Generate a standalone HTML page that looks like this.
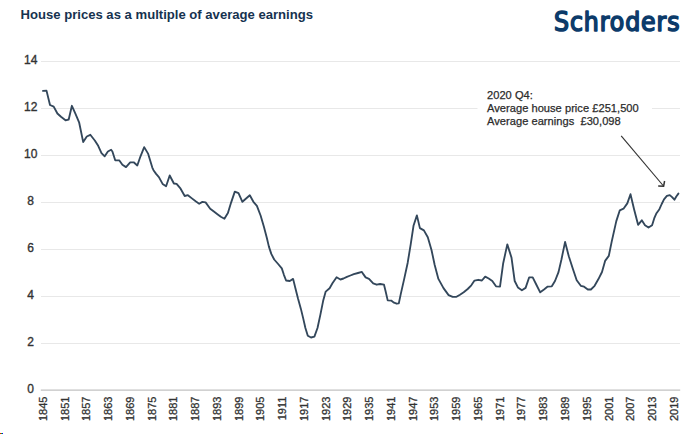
<!DOCTYPE html>
<html><head><meta charset="utf-8"><style>
html,body{margin:0;padding:0;background:#fff;}
body{width:700px;height:434px;overflow:hidden;position:relative;}
svg{position:absolute;left:0;top:0;}
#w{position:absolute;left:0;top:0;width:700px;height:434px;}
.g{stroke:#e8e8e8;stroke-width:1;}
.ax{stroke:#c2c2c2;stroke-width:1.4;}
text{font-family:"Liberation Sans",Arial,sans-serif;}
.yl{font-size:12px;fill:#333;stroke:#333;stroke-width:0.35px;text-anchor:middle;}
.xl{font-size:11px;fill:#333;stroke:#333;stroke-width:0.3px;text-anchor:end;}
.an{font-size:11.1px;letter-spacing:0.03px;fill:#2b2b2b;stroke:#2b2b2b;stroke-width:0.25px;}
.title{font-size:13.1px;font-weight:700;fill:#16324f;}
.logo{font-family:"DejaVu Sans Condensed","DejaVu Sans",sans-serif;font-size:26.3px;font-weight:400;fill:#0c3b6a;stroke:#0c3b6a;stroke-width:1.5px;stroke-linejoin:round;letter-spacing:0.9px;}
.px{position:absolute;width:1px;height:1px;}
</style></head><body>
<div id="w"><svg width="700" height="434" viewBox="0 0 700 434">
<text x="20.5" y="19.45" class="title">House prices as a multiple of average earnings</text>
<text x="554" y="30.6" class="logo">Schroders</text>
<line x1="41" y1="343.5" x2="680" y2="343.5" class="g"/><line x1="41" y1="296.5" x2="680" y2="296.5" class="g"/><line x1="41" y1="249.5" x2="680" y2="249.5" class="g"/><line x1="41" y1="202.5" x2="680" y2="202.5" class="g"/><line x1="41" y1="155.5" x2="680" y2="155.5" class="g"/><line x1="41" y1="108.5" x2="680" y2="108.5" class="g"/><line x1="41" y1="61.5" x2="680" y2="61.5" class="g"/>
<line x1="40.8" y1="390.1" x2="680.2" y2="390.1" class="ax"/>
<text x="30.7" y="392.8" class="yl">0</text><text x="30.7" y="345.8" class="yl">2</text><text x="30.7" y="298.8" class="yl">4</text><text x="30.7" y="251.7" class="yl">6</text><text x="30.7" y="204.7" class="yl">8</text><text x="30.7" y="157.7" class="yl">10</text><text x="30.7" y="110.7" class="yl">12</text><text x="30.7" y="63.7" class="yl">14</text>
<text transform="translate(46.7,396.6) rotate(-90)" class="xl">1845</text><text transform="translate(68.5,396.6) rotate(-90)" class="xl">1851</text><text transform="translate(90.2,396.6) rotate(-90)" class="xl">1857</text><text transform="translate(112.0,396.6) rotate(-90)" class="xl">1863</text><text transform="translate(133.7,396.6) rotate(-90)" class="xl">1869</text><text transform="translate(155.5,396.6) rotate(-90)" class="xl">1875</text><text transform="translate(177.3,396.6) rotate(-90)" class="xl">1881</text><text transform="translate(199.0,396.6) rotate(-90)" class="xl">1887</text><text transform="translate(220.8,396.6) rotate(-90)" class="xl">1893</text><text transform="translate(242.5,396.6) rotate(-90)" class="xl">1899</text><text transform="translate(264.3,396.6) rotate(-90)" class="xl">1905</text><text transform="translate(286.1,396.6) rotate(-90)" class="xl">1911</text><text transform="translate(307.8,396.6) rotate(-90)" class="xl">1917</text><text transform="translate(329.6,396.6) rotate(-90)" class="xl">1923</text><text transform="translate(351.3,396.6) rotate(-90)" class="xl">1929</text><text transform="translate(373.1,396.6) rotate(-90)" class="xl">1935</text><text transform="translate(394.9,396.6) rotate(-90)" class="xl">1941</text><text transform="translate(416.6,396.6) rotate(-90)" class="xl">1947</text><text transform="translate(438.4,396.6) rotate(-90)" class="xl">1953</text><text transform="translate(460.1,396.6) rotate(-90)" class="xl">1959</text><text transform="translate(481.9,396.6) rotate(-90)" class="xl">1965</text><text transform="translate(503.7,396.6) rotate(-90)" class="xl">1971</text><text transform="translate(525.4,396.6) rotate(-90)" class="xl">1977</text><text transform="translate(547.2,396.6) rotate(-90)" class="xl">1983</text><text transform="translate(568.9,396.6) rotate(-90)" class="xl">1989</text><text transform="translate(590.7,396.6) rotate(-90)" class="xl">1995</text><text transform="translate(612.5,396.6) rotate(-90)" class="xl">2001</text><text transform="translate(634.2,396.6) rotate(-90)" class="xl">2007</text><text transform="translate(656.0,396.6) rotate(-90)" class="xl">2013</text><text transform="translate(677.7,396.6) rotate(-90)" class="xl">2019</text>
<rect x="477.5" y="86" width="174.5" height="44" fill="#fff"/>
<text class="an"><tspan x="487" y="99.3">2020 Q4:</tspan><tspan x="487" y="112.1">Average house price £251,500</tspan><tspan x="487" y="125.4">Average earnings&#160; £30,098</tspan></text>
<path d="M43.0,90.9 L46.5,90.6 L50.0,105.0 L53.7,106.6 L57.4,113.5 L61.0,116.8 L65.5,120.3 L68.7,119.5 L71.9,105.8 L75.5,113.9 L79.2,122.7 L83.2,142.1 L86.8,136.5 L90.3,134.8 L94.8,140.5 L98.2,145.8 L101.5,153.1 L104.7,156.3 L107.9,151.5 L111.1,149.8 L112.4,151.5 L115.2,160.3 L119.2,160.3 L122.4,164.8 L126.0,167.1 L130.2,162.3 L133.7,162.3 L137.3,165.5 L140.5,156.3 L144.2,147.1 L148.2,153.9 L152.3,167.6 L153.5,170.2 L156.1,173.9 L158.9,177.1 L162.6,183.9 L166.1,186.3 L169.7,175.5 L173.9,183.5 L176.6,183.9 L180.6,188.7 L184.7,196.0 L187.9,195.2 L191.9,198.4 L196.0,201.6 L199.2,203.7 L202.4,201.9 L205.6,202.4 L210.2,208.7 L213.9,211.5 L217.1,213.9 L220.8,216.8 L224.4,218.7 L227.9,213.1 L231.1,202.6 L234.8,191.6 L238.5,193.2 L242.4,201.8 L246.1,198.5 L249.8,195.3 L253.4,201.8 L256.9,205.8 L260.6,215.5 L263.9,226.8 L266.8,237.7 L268.9,246.6 L271.3,253.9 L274.2,259.5 L277.7,263.5 L281.8,268.4 L283.9,274.8 L286.1,280.5 L289.8,281.0 L293.1,278.9 L295.4,288.2 L298.0,298.5 L300.9,308.9 L303.2,318.4 L305.4,328.0 L307.8,335.7 L311.0,337.5 L314.4,336.6 L317.5,328.0 L320.5,314.1 L323.1,301.1 L325.7,291.6 L329.6,288.2 L332.6,283.0 L336.6,277.3 L340.4,279.5 L343.5,278.5 L346.9,276.9 L350.4,275.5 L353.8,274.1 L358.0,273.0 L361.9,271.9 L363.5,274.4 L365.6,277.4 L369.0,278.8 L373.2,283.4 L376.7,284.7 L380.1,284.0 L384.0,284.7 L385.6,291.2 L387.7,300.4 L391.2,300.6 L394.0,302.7 L396.7,303.7 L398.8,303.4 L400.8,293.9 L404.2,278.9 L407.7,262.7 L410.7,244.3 L413.5,225.8 L416.9,215.4 L419.9,228.1 L423.9,230.4 L427.8,237.3 L431.5,250.0 L434.7,265.0 L438.4,278.9 L443.5,288.1 L448.6,295.1 L452.7,296.9 L456.5,296.8 L460.0,294.7 L463.7,292.3 L467.7,289.0 L471.3,285.3 L474.5,280.6 L478.2,279.8 L481.9,280.5 L485.2,276.6 L488.7,278.5 L492.3,281.0 L496.0,286.3 L500.0,286.6 L503.2,263.2 L507.3,244.4 L511.5,257.6 L514.7,281.0 L517.9,287.4 L521.9,290.2 L525.6,287.9 L529.2,277.3 L532.7,277.3 L536.5,285.0 L540.2,292.3 L544.0,289.5 L547.7,286.6 L551.8,286.3 L555.0,281.0 L558.5,272.1 L561.5,259.2 L565.1,241.9 L568.8,256.3 L573.0,269.2 L576.7,280.2 L580.8,285.8 L584.1,286.7 L587.8,289.5 L590.9,289.5 L594.6,285.8 L598.3,279.3 L602.0,272.0 L605.1,260.9 L608.8,255.9 L611.7,241.6 L616.3,221.1 L619.8,210.3 L623.5,208.7 L627.3,203.4 L630.5,194.2 L634.0,209.0 L638.1,224.8 L641.8,220.3 L645.0,225.2 L648.5,227.6 L652.1,225.2 L654.2,218.4 L656.5,213.2 L659.4,209.2 L661.7,204.0 L664.0,199.4 L666.9,195.9 L669.8,195.1 L672.1,197.1 L674.4,199.7 L676.3,196.5 L678.4,193.6" fill="none" stroke="#33475b" stroke-width="1.85" stroke-linejoin="round" stroke-linecap="round"/>
<line x1="621.2" y1="135.8" x2="663.5" y2="186" stroke="#333" stroke-width="1.15"/>
<polyline points="658.2,186 663.6,186.2 664.6,181" fill="none" stroke="#333" stroke-width="1.5"/>
</svg></div>
<div class="px" style="left:0;top:433px;background:#f00"></div>
<div class="px" style="left:1px;top:433px;background:#0c0"></div>
<div class="px" style="left:2px;top:433px;background:#00f"></div>
</body></html>
